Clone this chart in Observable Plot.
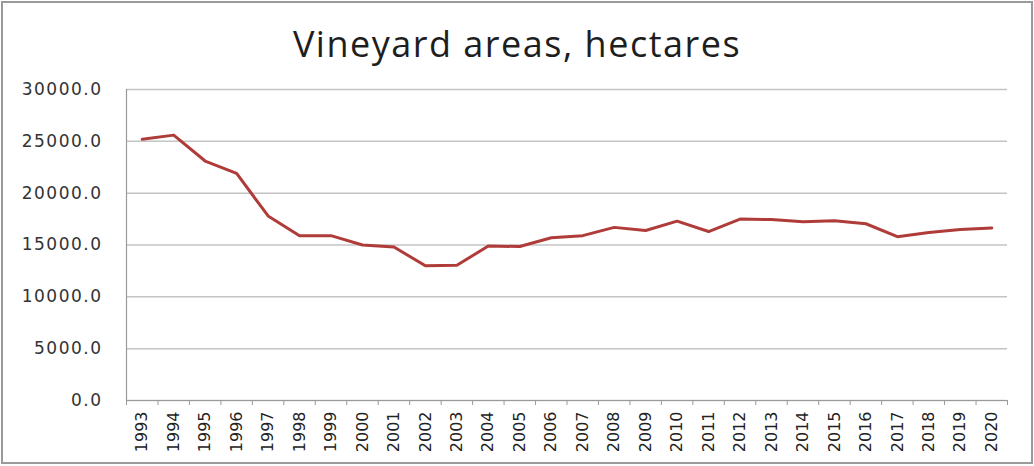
<!DOCTYPE html>
<html>
<head>
<meta charset="utf-8">
<script src="https://cdn.jsdelivr.net/npm/d3@7"></script>
<script src="https://cdn.jsdelivr.net/npm/@observablehq/plot@0.6"></script>
<style>
  html, body { margin: 0; padding: 0; background: #fff; }
  #wrap { position: relative; width: 1034px; height: 466px; overflow: hidden; }
  #frame { position: absolute; left: 1px; top: 1px; width: 1028px; height: 459px; border: 2px solid #9a9a9a; pointer-events: none; }
  #title { position: absolute; left: 0; width: 1034px; top: 22px; text-align: center; font-family: "Open Sans", sans-serif; font-size: 36px; letter-spacing: 1.5px; color: #1e1e1e; line-height: 1.2; }
  #chart { position: absolute; left: 0; top: 0; }
  [aria-label="y-axis tick label"] { letter-spacing: 1.5px; }
</style>
</head>
<body>
<div id="wrap">
  <div id="chart"></div>
  <div id="title">Vineyard areas, hectares</div>
  <div id="frame"></div>
</div>
<script>
const years = [1993,1994,1995,1996,1997,1998,1999,2000,2001,2002,2003,2004,2005,2006,2007,2008,2009,2010,2011,2012,2013,2014,2015,2016,2017,2018,2019,2020];
const areas = [25200,25600,23100,21900,17800,15900,15900,15000,14800,13000,13050,14900,14850,15700,15900,16700,16400,17300,16300,17500,17450,17250,17350,17050,15800,16200,16500,16650];
const yTicks = [0,5000,10000,15000,20000,25000,30000];

const data = years.map((y, i) => ({year: y, area: areas[i]}));
const boundaries = years.map(y => y - 0.5).concat([years[years.length - 1] + 0.5]);

const chart = Plot.plot({
  width: 1034,
  height: 466,
  marginLeft: 126,
  marginRight: 27,
  marginTop: 89,
  marginBottom: 66,
  style: {fontFamily: "DejaVu Sans, sans-serif", background: "transparent"},
  x: {domain: [years[0] - 0.5, years[years.length - 1] + 0.5]},
  y: {domain: [0, 30000]},
  marks: [
    Plot.gridY(yTicks, {stroke: "#c4c4c4", strokeOpacity: 1, strokeWidth: 1.5}),
    Plot.ruleX([years[0] - 0.5], {stroke: "#9a9a9a", strokeWidth: 1.2}),
    Plot.ruleY([0], {stroke: "#9a9a9a", strokeWidth: 1.2}),
    Plot.axisY(yTicks, {
      tickSize: 10, tickPadding: 14, tickFormat: d3.format(".1f"),
      fontSize: 17, fill: "#333", stroke: null, label: null
    }),
    Plot.axisX(boundaries, {tickSize: 5, tickFormat: () => "", stroke: "#9a9a9a", label: null}),
    Plot.axisX(years, {
      tickSize: 0, tickPadding: 11, tickRotate: -90, tickFormat: d => String(d),
      fontSize: 16, fill: "#222", label: null
    }),
    Plot.line(data, {x: "year", y: "area", stroke: "#b03c3a", strokeWidth: 3, strokeLinejoin: "round"})
  ]
});
document.getElementById("chart").appendChild(chart);
</script>
</body>
</html>
